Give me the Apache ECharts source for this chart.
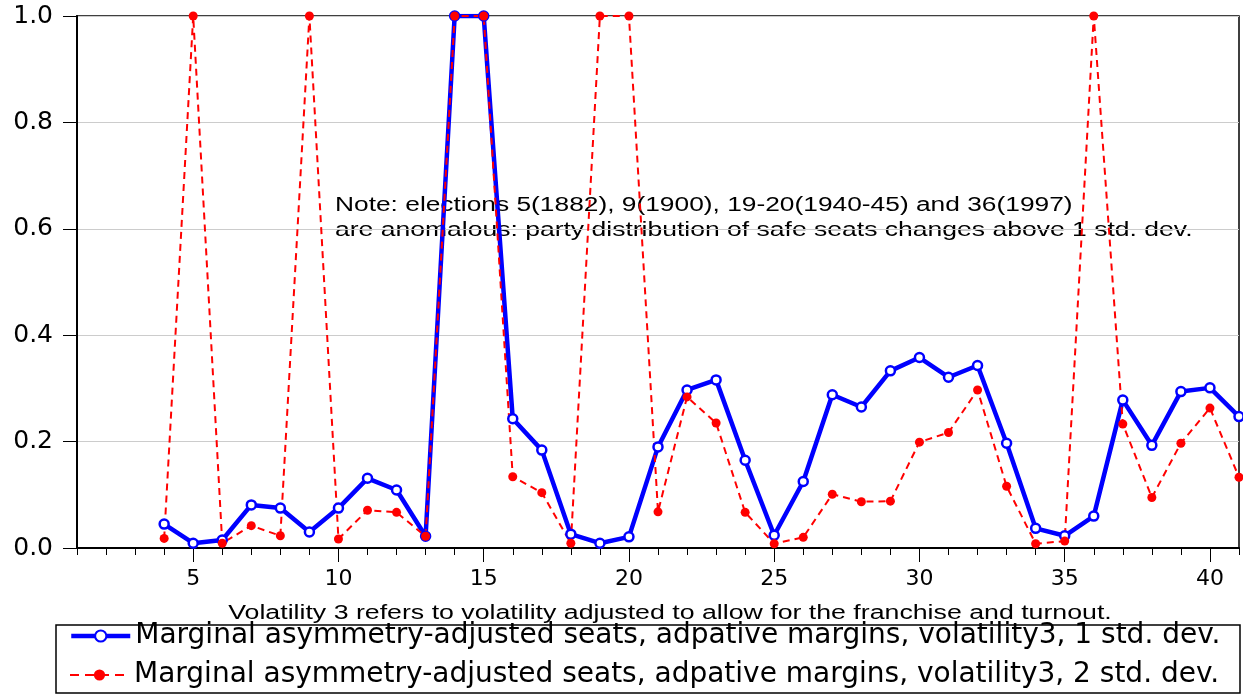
<!DOCTYPE html>
<html>
<head>
<meta charset="utf-8">
<script src="https://cdn.jsdelivr.net/npm/echarts@6/dist/echarts.min.js"></script>
<style>
html,body{margin:0;padding:0;background:#fff;}
#chart{width:1243px;height:698px;}
</style>
</head>
<body>
<div id="chart"></div>
<script>
// Elections 1..41
const categories = Array.from({length: 41}, (_, i) => String(i + 1));
const yTicks = [0, 0.2, 0.4, 0.6, 0.8, 1.0];

// 1 std. dev. (blue), elections 1..41 ('-' = missing)
const sd1 = ['-','-','-',0.045,0.009,0.015,0.081,0.075,0.030,0.075,0.131,0.109,0.022,1.0,1.0,0.243,0.184,0.026,0.009,0.021,0.190,0.297,0.316,0.165,0.024,0.125,0.288,0.265,0.333,0.358,0.321,0.343,0.197,0.037,0.023,0.060,0.278,0.193,0.294,0.301,0.247];
// 2 std. dev. (red)
const sd2 = ['-','-','-',0.018,1.0,0.009,0.042,0.023,1.0,0.017,0.071,0.067,0.022,1.0,1.0,0.134,0.104,0.009,1.0,1.0,0.068,0.284,0.235,0.067,0.008,0.020,0.101,0.087,0.088,0.199,0.217,0.297,0.116,0.008,0.013,1.0,0.233,0.095,0.197,0.263,0.133];

const seriesNames = [
  'Marginal asymmetry-adjusted seats, adpative margins, volatility3, 1 std. dev.',
  'Marginal asymmetry-adjusted seats, adpative margins, volatility3, 2 std. dev.'
];
const xTitle = 'Volatility 3 refers to volatility adjusted to allow for the franchise and turnout.';
const noteLines = [
  'Note: elections 5(1882), 9(1900), 19-20(1940-45) and 36(1997)',
  'are anomalous: party distribution of safe seats changes above 1 std. dev.'
];

const FONT = '"Liberation Sans", Arial, sans-serif';
const WIDE = '"DejaVu Sans", sans-serif';
const chart = echarts.init(document.getElementById('chart'), null, {renderer: 'canvas'});

const isMajor = (idx) => (idx + 1) % 5 === 0;

const legendBase = {
  orient: 'horizontal', left: 69, padding: 0,
  itemWidth: 59, itemHeight: 14,
  textStyle: {fontSize: 28, color: '#000', fontFamily: WIDE, lineHeight: 32}
};

chart.setOption({
  animation: false,
  backgroundColor: '#fff',
  textStyle: {fontFamily: FONT, color: '#000'},
  grid: {left: 77, right: 4, top: 16, bottom: 150, show: true, borderColor: '#000', borderWidth: 1.5, containLabel: false},
  xAxis: [
    {
      type: 'category', data: categories, boundaryGap: false,
      axisLine: {show: true, lineStyle: {color: '#000', width: 2}},
      axisTick: {show: true, interval: 0, length: 7, lineStyle: {color: '#000', width: 1}},
      axisLabel: {interval: (i) => isMajor(i), fontSize: 22, color: '#000', margin: 20, fontFamily: WIDE},
      splitLine: {show: false}
    },
    {
      type: 'category', data: categories, boundaryGap: false, position: 'bottom',
      axisLine: {show: false},
      axisTick: {show: true, interval: (i) => isMajor(i), length: 14, lineStyle: {color: '#000', width: 1}},
      axisLabel: {show: false},
      splitLine: {show: false}
    }
  ],
  yAxis: {
    type: 'value', min: 0, max: 1, interval: 0.2,
    axisLine: {show: true, lineStyle: {color: '#000', width: 2}},
    axisTick: {show: true, length: 14, lineStyle: {color: '#000', width: 1}},
    axisLabel: {fontSize: 25, color: '#000', margin: 24, fontFamily: WIDE, formatter: (v) => v.toFixed(1)},
    splitLine: {show: true, lineStyle: {color: '#cccccc', width: 1.2}}
  },
  legend: [
    Object.assign({}, legendBase, {top: 620, data: [{name: seriesNames[0], lineStyle: {width: 4.5, color: '#0000ff'}}]}),
    Object.assign({}, legendBase, {top: 659, data: [{name: seriesNames[1], lineStyle: {width: 2, color: '#ff0000', type: [9, 6]}}]})
  ],
  graphic: [
    {type: 'rect', x: 56, y: 625, shape: {x: 0, y: 0, width: 1184, height: 68}, style: {fill: 'none', stroke: '#000', lineWidth: 1.5}, z: -1},
    {type: 'text', x: 335, y: 205.5, scaleX: 1.35, style: {text: noteLines[0], font: '19.5px ' + FONT, fill: '#000', textAlign: 'left', textVerticalAlign: 'middle'}},
    {type: 'text', x: 335, y: 230.5, scaleX: 1.36, style: {text: noteLines[1], font: '19.5px ' + FONT, fill: '#000', textAlign: 'left', textVerticalAlign: 'middle'}},
    {type: 'text', x: 670, y: 613.5, scaleX: 1.37, style: {text: xTitle, font: '19.5px ' + FONT, fill: '#000', textAlign: 'center', textVerticalAlign: 'middle'}}
  ],
  series: [
    {
      name: seriesNames[0], type: 'line', data: sd1,
      symbol: 'circle', symbolSize: 9, showSymbol: true,
      lineStyle: {color: '#0000ff', width: 4.5},
      itemStyle: {color: '#ffffff', borderColor: '#0000ff', borderWidth: 2.5},
      clip: true
    },
    {
      name: seriesNames[1], type: 'line', data: sd2,
      symbol: 'circle', symbolSize: 9, showSymbol: true,
      lineStyle: {color: '#ff0000', width: 2, type: [7, 5]},
      itemStyle: {color: '#ff0000', borderColor: '#ff0000', borderWidth: 0},
      clip: true
    }
  ]
});
</script>
</body>
</html>
